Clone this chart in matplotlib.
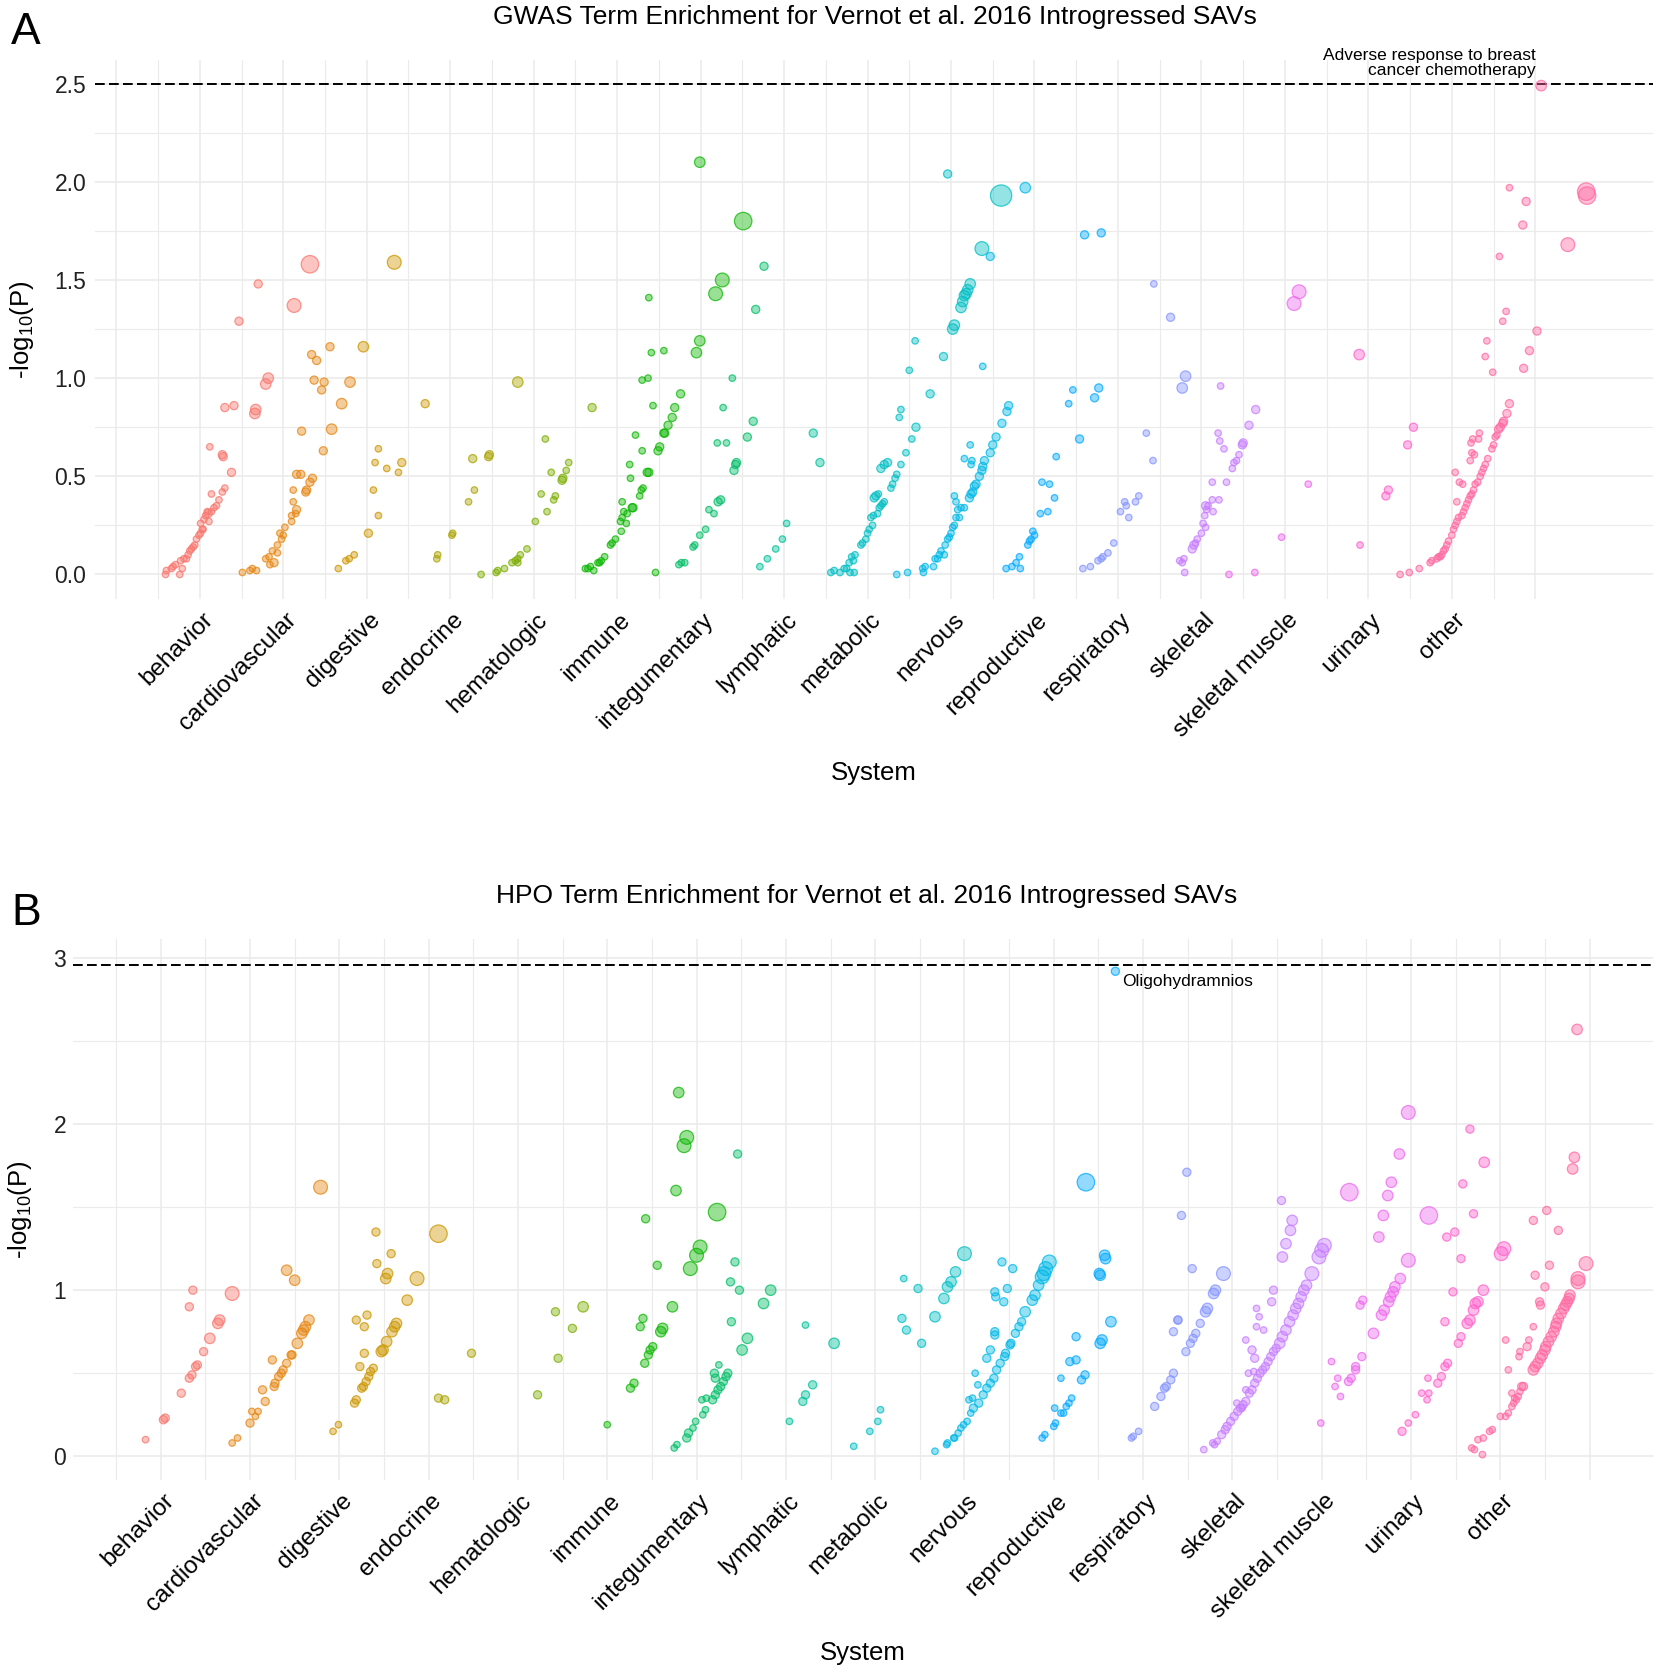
import numpy as np
import matplotlib
matplotlib.use("Agg")
import matplotlib.pyplot as plt
import matplotlib.transforms as mtransforms

plt.rcParams["font.family"] = ["Liberation Sans", "DejaVu Sans"]

systems = ["behavior", "cardiovascular", "digestive", "endocrine", "hematologic",
           "immune", "integumentary", "lymphatic", "metabolic", "nervous",
           "reproductive", "respiratory", "skeletal", "skeletal muscle",
           "urinary", "other"]

# each term: (x position, -log10(P), genes in term)
# ---- GWAS panel ----
gwas_behavior = [(0.59, 0.00, 1), (0.60, 0.02, 1), (0.66, 0.03, 1), (0.68, 0.04, 1), (0.71, 0.05, 1),
                 (0.76, 0.00, 1), (0.79, 0.03, 1), (0.77, 0.07, 1), (0.81, 0.08, 1), (0.84, 0.08, 1),
                 (0.86, 0.10, 1), (0.88, 0.12, 1), (0.90, 0.13, 1), (0.92, 0.14, 1), (0.94, 0.15, 1),
                 (0.96, 0.18, 1), (0.99, 0.20, 1), (1.01, 0.21, 1), (1.03, 0.23, 1), (1.04, 0.23, 1),
                 (1.01, 0.26, 1), (1.05, 0.28, 1), (1.07, 0.30, 1), (1.10, 0.31, 2), (1.09, 0.32, 1),
                 (1.11, 0.27, 1), (1.14, 0.32, 1), (1.17, 0.34, 1), (1.20, 0.35, 1), (1.23, 0.38, 1),
                 (1.14, 0.41, 1), (1.27, 0.42, 1), (1.30, 0.44, 1), (1.38, 0.52, 2), (1.27, 0.61, 2),
                 (1.28, 0.60, 2), (1.12, 0.65, 1), (1.30, 0.85, 2), (1.41, 0.86, 2), (1.47, 1.29, 2),
                 (1.70, 1.48, 2), (1.66, 0.82, 4), (1.67, 0.84, 4), (1.79, 0.97, 4), (1.82, 1.00, 4),
                 (2.13, 1.37, 8), (2.32, 1.58, 14)]
gwas_cardiovascular = [(1.51, 0.01, 1), (1.60, 0.02, 1), (1.63, 0.03, 1), (1.68, 0.02, 1), (1.79, 0.08, 1),
                       (1.83, 0.09, 1), (1.84, 0.05, 1), (1.87, 0.12, 1), (1.89, 0.06, 2), (1.93, 0.11, 1),
                       (1.93, 0.15, 1), (1.96, 0.21, 1), (1.98, 0.18, 1), (2.00, 0.20, 1), (2.02, 0.24, 1),
                       (2.10, 0.27, 1), (2.10, 0.30, 1), (2.12, 0.37, 1), (2.15, 0.31, 1), (2.16, 0.33, 2),
                       (2.12, 0.43, 1), (2.27, 0.42, 2), (2.28, 0.43, 2), (2.32, 0.47, 2), (2.35, 0.49, 2),
                       (2.16, 0.51, 2), (2.21, 0.51, 2), (2.22, 0.73, 2), (2.34, 1.12, 2), (2.40, 1.09, 2),
                       (2.37, 0.99, 2), (2.49, 0.98, 2), (2.46, 0.94, 2), (2.56, 1.16, 2), (2.48, 0.63, 2),
                       (2.58, 0.74, 4), (2.70, 0.87, 4), (2.80, 0.98, 4)]
gwas_digestive = [(2.66, 0.03, 1), (2.75, 0.07, 1), (2.79, 0.08, 1), (2.85, 0.10, 1), (3.02, 0.21, 2),
                  (3.08, 0.43, 1), (3.14, 0.30, 1), (3.10, 0.57, 1), (3.14, 0.64, 1), (3.24, 0.54, 1),
                  (3.38, 0.52, 1), (3.42, 0.57, 2), (2.96, 1.16, 4), (3.33, 1.59, 8), (3.70, 0.87, 2)]
gwas_endocrine = [(3.84, 0.08, 1), (3.85, 0.10, 1), (4.02, 0.20, 1), (4.03, 0.21, 1), (4.22, 0.37, 1),
                  (4.29, 0.43, 1), (4.27, 0.59, 2), (4.46, 0.60, 2), (4.47, 0.61, 2), (4.81, 0.98, 4)]
gwas_hematologic = [(4.37, 0.00, 1), (4.55, 0.01, 1), (4.57, 0.02, 1), (4.65, 0.03, 1), (4.74, 0.06, 1),
                    (4.78, 0.07, 1), (4.81, 0.08, 1), (4.84, 0.10, 1), (4.81, 0.06, 1), (4.92, 0.13, 1),
                    (5.02, 0.27, 1), (5.09, 0.41, 1), (5.16, 0.32, 1), (5.21, 0.52, 1), (5.14, 0.69, 1),
                    (5.24, 0.38, 1), (5.26, 0.40, 1), (5.34, 0.48, 2), (5.35, 0.49, 2), (5.39, 0.53, 1),
                    (5.42, 0.57, 1), (5.70, 0.85, 2)]
gwas_immune = [(5.62, 0.03, 1), (5.65, 0.03, 1), (5.68, 0.04, 1), (5.72, 0.02, 1), (5.77, 0.06, 1),
               (5.81, 0.07, 1), (5.79, 0.06, 1), (5.85, 0.09, 1), (5.92, 0.15, 1), (5.94, 0.16, 1),
               (5.98, 0.18, 1), (6.05, 0.22, 1), (6.04, 0.27, 1), (6.06, 0.29, 1), (6.08, 0.32, 1),
               (6.11, 0.26, 1), (6.12, 0.31, 1), (6.06, 0.37, 1), (6.18, 0.34, 2), (6.19, 0.34, 2),
               (6.16, 0.49, 1), (6.15, 0.56, 1), (6.22, 0.71, 1), (6.27, 0.40, 1), (6.29, 0.43, 1),
               (6.31, 0.44, 1), (6.30, 0.63, 1), (6.36, 0.52, 2), (6.38, 0.52, 2), (6.30, 0.99, 1),
               (6.37, 1.00, 1), (6.43, 0.86, 1), (6.41, 1.13, 1), (6.56, 1.14, 1), (6.38, 1.41, 1),
               (6.49, 0.63, 2), (6.51, 0.65, 2), (6.56, 0.72, 2), (6.57, 0.72, 2), (6.61, 0.76, 2),
               (6.66, 0.80, 2), (6.69, 0.85, 2), (6.76, 0.92, 2), (6.46, 0.01, 1), (6.95, 1.13, 4),
               (6.99, 1.19, 4), (6.99, 2.10, 4), (7.18, 1.43, 8), (7.26, 1.50, 8), (7.51, 1.80, 14)]
gwas_integumentary = [(6.74, 0.05, 1), (6.77, 0.06, 1), (6.81, 0.06, 1), (6.91, 0.14, 1), (6.93, 0.15, 1),
                      (6.99, 0.20, 1), (7.06, 0.23, 1), (7.10, 0.33, 1), (7.16, 0.31, 1), (7.21, 0.37, 2),
                      (7.24, 0.38, 2), (7.20, 0.67, 1), (7.31, 0.67, 1), (7.27, 0.85, 1), (7.38, 1.00, 1),
                      (7.40, 0.53, 2), (7.42, 0.56, 2), (7.43, 0.57, 2), (7.56, 0.70, 2), (7.63, 0.78, 2),
                      (7.66, 1.35, 2), (7.76, 1.57, 2)]
gwas_lymphatic = [(7.71, 0.04, 1), (7.80, 0.08, 1), (7.90, 0.13, 1), (7.98, 0.18, 1), (8.03, 0.26, 1),
                  (8.35, 0.72, 2), (8.43, 0.57, 2)]
gwas_metabolic = [(8.56, 0.01, 1), (8.60, 0.02, 1), (8.67, 0.01, 1), (8.72, 0.03, 1), (8.75, 0.03, 1),
                  (8.78, 0.06, 1), (8.81, 0.09, 1), (8.83, 0.07, 1), (8.85, 0.10, 1), (8.79, 0.01, 1),
                  (8.84, 0.01, 1), (8.92, 0.15, 1), (8.94, 0.16, 1), (8.98, 0.18, 1), (9.00, 0.21, 1),
                  (9.02, 0.23, 1), (9.06, 0.25, 1), (9.04, 0.29, 1), (9.07, 0.30, 1), (9.12, 0.31, 1),
                  (9.14, 0.34, 1), (9.16, 0.35, 1), (9.18, 0.36, 1), (9.20, 0.37, 1), (9.08, 0.39, 2),
                  (9.10, 0.40, 2), (9.13, 0.41, 1), (9.28, 0.44, 1), (9.30, 0.46, 1), (9.33, 0.49, 1),
                  (9.35, 0.51, 1), (9.16, 0.54, 2), (9.20, 0.56, 2), (9.24, 0.57, 2), (9.40, 0.56, 1),
                  (9.46, 0.62, 1), (9.53, 0.69, 1), (9.58, 0.75, 2), (9.38, 0.80, 1), (9.40, 0.84, 1),
                  (9.50, 1.04, 1), (9.57, 1.19, 1), (9.75, 0.92, 2), (9.91, 1.11, 2), (10.02, 1.25, 4),
                  (10.04, 1.27, 4), (10.12, 1.36, 4), (10.14, 1.39, 4), (10.16, 1.42, 4), (10.18, 1.43, 4),
                  (10.20, 1.45, 4), (10.23, 1.48, 4), (10.37, 1.66, 8), (10.60, 1.93, 22), (9.96, 2.04, 2)]
gwas_nervous = [(9.35, 0.00, 1), (9.48, 0.01, 1), (9.66, 0.03, 1), (9.67, 0.01, 1), (9.69, 0.04, 1),
                (9.79, 0.04, 1), (9.81, 0.08, 1), (9.84, 0.08, 1), (9.86, 0.10, 1), (9.88, 0.12, 1),
                (9.92, 0.10, 1), (9.93, 0.15, 1), (9.96, 0.18, 1), (9.98, 0.19, 1), (10.00, 0.21, 1),
                (10.02, 0.24, 1), (10.04, 0.25, 1), (10.06, 0.29, 1), (10.08, 0.33, 1), (10.12, 0.34, 1),
                (10.16, 0.34, 1), (10.04, 0.40, 1), (10.06, 0.37, 1), (10.10, 0.29, 1), (10.22, 0.39, 2),
                (10.24, 0.41, 2), (10.26, 0.42, 2), (10.28, 0.45, 2), (10.30, 0.46, 2), (10.34, 0.50, 2),
                (10.37, 0.53, 2), (10.38, 0.55, 2), (10.40, 0.58, 2), (10.16, 0.59, 1), (10.25, 0.58, 1),
                (10.24, 0.56, 1), (10.23, 0.66, 1), (10.47, 0.62, 2), (10.50, 0.66, 2), (10.54, 0.70, 2),
                (10.61, 0.77, 2), (10.67, 0.83, 2), (10.69, 0.86, 2), (10.47, 1.62, 2), (10.38, 1.06, 1),
                (10.89, 1.97, 4)]
gwas_reproductive = [(10.66, 0.03, 1), (10.73, 0.04, 1), (10.78, 0.06, 1), (10.83, 0.03, 1), (10.82, 0.09, 1),
                     (10.92, 0.15, 1), (10.94, 0.17, 1), (10.96, 0.18, 1), (10.98, 0.22, 1), (11.00, 0.20, 1),
                     (11.07, 0.31, 1), (11.16, 0.32, 1), (11.24, 0.39, 1), (11.09, 0.47, 1), (11.18, 0.46, 1),
                     (11.26, 0.60, 1), (11.54, 0.69, 2), (11.41, 0.87, 1), (11.46, 0.94, 1), (11.72, 0.90, 2),
                     (11.77, 0.95, 2), (11.60, 1.73, 2), (11.80, 1.74, 2)]
gwas_respiratory = [(11.58, 0.03, 1), (11.67, 0.04, 1), (11.76, 0.07, 1), (11.80, 0.08, 1), (11.82, 0.09, 1),
                    (11.88, 0.11, 1), (11.95, 0.16, 1), (12.03, 0.32, 1), (12.13, 0.29, 1), (12.08, 0.37, 1),
                    (12.10, 0.35, 1), (12.21, 0.37, 1), (12.25, 0.40, 1), (12.34, 0.72, 1), (12.42, 0.58, 1),
                    (12.43, 1.48, 1), (12.63, 1.31, 2), (12.77, 0.95, 4), (12.81, 1.01, 4)]
gwas_skeletal = [(12.74, 0.07, 1), (12.79, 0.08, 1), (12.77, 0.06, 1), (12.80, 0.01, 1), (12.89, 0.13, 2),
                 (12.91, 0.15, 2), (12.93, 0.16, 1), (12.95, 0.18, 1), (13.00, 0.21, 1), (13.02, 0.26, 1),
                 (13.05, 0.24, 1), (13.04, 0.30, 1), (13.06, 0.33, 1), (13.08, 0.35, 1), (13.14, 0.32, 1),
                 (13.13, 0.38, 1), (13.21, 0.38, 1), (13.05, 0.35, 2), (13.13, 0.47, 1), (13.30, 0.47, 1),
                 (13.37, 0.54, 1), (13.39, 0.57, 1), (13.42, 0.58, 1), (13.45, 0.61, 1), (13.49, 0.66, 2),
                 (13.50, 0.67, 2), (13.20, 0.72, 1), (13.22, 0.68, 1), (13.27, 0.64, 1), (13.57, 0.76, 2),
                 (13.65, 0.84, 2), (13.23, 0.96, 1)]
gwas_skeletal_muscle = [(13.33, 0.00, 1), (13.64, 0.01, 1), (13.96, 0.19, 1), (14.11, 1.38, 8),
                        (14.17, 1.44, 8), (14.28, 0.46, 1)]
gwas_urinary = [(14.90, 0.15, 1), (14.89, 1.12, 4), (15.21, 0.40, 2), (15.24, 0.43, 2), (15.47, 0.66, 2),
                (15.54, 0.75, 2)]
gwas_other = [(15.38, 0.00, 1), (15.49, 0.01, 1), (15.61, 0.03, 1), (15.74, 0.06, 1), (15.76, 0.07, 1),
              (15.82, 0.08, 1), (15.84, 0.09, 1), (15.86, 0.09, 1), (15.88, 0.10, 1), (15.90, 0.12, 1),
              (15.92, 0.13, 1), (15.94, 0.15, 1), (15.96, 0.17, 1), (16.00, 0.20, 1), (16.02, 0.23, 1),
              (16.04, 0.25, 1), (16.06, 0.27, 1), (16.08, 0.29, 1), (16.12, 0.30, 1), (16.14, 0.32, 1),
              (16.16, 0.34, 1), (16.18, 0.36, 1), (16.20, 0.38, 1), (16.22, 0.40, 1), (16.24, 0.41, 1),
              (16.26, 0.43, 1), (16.28, 0.46, 1), (16.31, 0.47, 1), (16.34, 0.50, 1), (16.36, 0.52, 1),
              (16.38, 0.54, 1), (16.40, 0.56, 1), (16.43, 0.59, 1), (16.48, 0.64, 1), (16.50, 0.66, 1),
              (16.52, 0.70, 1), (16.54, 0.71, 1), (16.56, 0.74, 2), (16.58, 0.75, 2), (16.61, 0.77, 2),
              (16.62, 0.78, 2), (16.66, 0.82, 2), (16.69, 0.87, 2), (16.04, 0.52, 1), (16.09, 0.47, 1),
              (16.13, 0.46, 1), (16.06, 0.37, 1), (16.22, 0.58, 1), (16.24, 0.62, 1), (16.27, 0.61, 1),
              (16.23, 0.67, 1), (16.25, 0.69, 1), (16.32, 0.69, 1), (16.33, 0.72, 1), (16.49, 1.03, 1),
              (16.40, 1.11, 1), (16.42, 1.19, 1), (16.61, 1.29, 1), (16.65, 1.34, 1), (16.86, 1.05, 2),
              (16.93, 1.14, 2), (17.02, 1.24, 2), (16.57, 1.62, 1), (16.69, 1.97, 1), (16.85, 1.78, 2),
              (16.89, 1.90, 2), (17.39, 1.68, 8), (17.61, 1.95, 14), (17.62, 1.93, 14), (17.07, 2.49, 4)]

# ---- HPO panel ----
hpo_behavior = [(0.83, 0.10, 1), (1.03, 0.22, 2), (1.05, 0.23, 2), (1.23, 0.38, 2), (1.32, 0.47, 2),
                (1.35, 0.49, 2), (1.39, 0.54, 2), (1.41, 0.55, 2), (1.48, 0.63, 2), (1.55, 0.71, 4),
                (1.64, 0.80, 4), (1.66, 0.82, 4), (1.32, 0.90, 2), (1.36, 1.00, 2), (1.80, 0.98, 8)]
hpo_cardiovascular = [(1.80, 0.08, 1), (1.86, 0.11, 1), (2.00, 0.20, 2), (2.02, 0.27, 1), (2.06, 0.24, 1),
                      (2.09, 0.27, 1), (2.14, 0.40, 2), (2.17, 0.33, 2), (2.27, 0.42, 2), (2.28, 0.44, 2),
                      (2.32, 0.48, 2), (2.35, 0.50, 2), (2.37, 0.52, 2), (2.41, 0.56, 2), (2.46, 0.61, 2),
                      (2.47, 0.61, 2), (2.25, 0.58, 2), (2.53, 0.68, 4), (2.58, 0.74, 4), (2.60, 0.76, 4),
                      (2.62, 0.78, 4), (2.66, 0.82, 4), (2.41, 1.12, 4), (2.50, 1.06, 4), (2.79, 1.62, 8)]
hpo_digestive = [(2.93, 0.15, 1), (2.99, 0.19, 1), (3.17, 0.32, 2), (3.19, 0.34, 2), (3.23, 0.54, 2),
                 (3.28, 0.62, 2), (3.25, 0.41, 2), (3.27, 0.42, 2), (3.30, 0.45, 2), (3.33, 0.48, 2),
                 (3.35, 0.51, 2), (3.38, 0.53, 2), (3.19, 0.82, 2), (3.28, 0.78, 2), (3.31, 0.85, 2),
                 (3.47, 0.63, 4), (3.49, 0.64, 4), (3.53, 0.69, 4), (3.59, 0.75, 4), (3.62, 0.78, 4),
                 (3.64, 0.80, 4), (3.76, 0.94, 4), (3.41, 1.35, 2), (3.42, 1.16, 2), (3.58, 1.22, 2),
                 (3.52, 1.07, 4), (3.54, 1.10, 4), (3.87, 1.07, 8), (4.11, 1.34, 14)]
hpo_endocrine = [(4.11, 0.35, 2), (4.18, 0.34, 2), (4.48, 0.62, 2)]
hpo_hematologic = [(5.22, 0.37, 2), (5.42, 0.87, 2), (5.45, 0.59, 2), (5.61, 0.77, 2), (5.73, 0.90, 4)]
hpo_immune = [(6.00, 0.19, 1), (6.26, 0.41, 2), (6.30, 0.44, 2), (6.42, 0.56, 2), (6.46, 0.61, 2),
              (6.48, 0.64, 2), (6.51, 0.66, 2), (6.37, 0.78, 2), (6.40, 0.83, 2), (6.60, 0.75, 4),
              (6.62, 0.77, 4), (6.56, 1.15, 2), (6.43, 1.43, 2), (6.73, 0.90, 4), (6.77, 1.60, 4),
              (6.93, 1.13, 8), (7.00, 1.21, 8), (7.04, 1.26, 8), (6.86, 1.87, 8), (6.89, 1.92, 8),
              (6.80, 2.19, 4), (7.23, 1.47, 14)]
hpo_integumentary = [(6.75, 0.05, 1), (6.78, 0.07, 1), (6.89, 0.11, 2), (6.91, 0.14, 2), (6.96, 0.17, 1),
                     (6.99, 0.21, 1), (7.07, 0.25, 1), (7.10, 0.28, 1), (7.06, 0.34, 1), (7.11, 0.35, 1),
                     (7.18, 0.34, 2), (7.21, 0.37, 2), (7.24, 0.40, 2), (7.27, 0.42, 2), (7.30, 0.45, 2),
                     (7.33, 0.48, 2), (7.35, 0.50, 2), (7.20, 0.50, 2), (7.21, 0.47, 2), (7.25, 0.55, 1),
                     (7.39, 0.81, 2), (7.38, 1.05, 2), (7.48, 1.00, 2), (7.43, 1.17, 2), (7.46, 1.82, 2),
                     (7.51, 0.64, 4), (7.57, 0.71, 4), (7.75, 0.92, 4), (7.83, 1.00, 4)]
hpo_lymphatic = [(8.04, 0.21, 1), (8.19, 0.33, 2), (8.22, 0.37, 2), (8.30, 0.43, 2), (8.22, 0.79, 1),
                 (8.54, 0.68, 4)]
hpo_metabolic = [(8.76, 0.06, 1), (8.94, 0.15, 1), (9.03, 0.21, 1), (9.06, 0.28, 1), (9.32, 1.07, 1),
                 (9.48, 1.01, 2), (9.30, 0.83, 2), (9.35, 0.76, 2), (9.52, 0.68, 2), (9.67, 0.84, 4),
                 (9.77, 0.95, 4), (9.81, 1.02, 4), (9.85, 1.05, 4), (9.90, 1.11, 4), (10.00, 1.22, 8)]
hpo_nervous = [(9.67, 0.03, 1), (9.80, 0.07, 1), (9.81, 0.08, 1), (9.88, 0.11, 1), (9.89, 0.11, 1),
               (9.93, 0.14, 1), (9.96, 0.17, 1), (9.99, 0.19, 1), (10.03, 0.21, 1), (10.07, 0.26, 1),
               (10.10, 0.29, 2), (10.16, 0.32, 2), (10.21, 0.37, 2), (10.25, 0.41, 2), (10.29, 0.44, 2),
               (10.33, 0.47, 2), (10.36, 0.52, 2), (10.40, 0.56, 2), (10.45, 0.60, 2), (10.46, 0.62, 2),
               (10.51, 0.67, 2), (10.52, 0.68, 2), (10.57, 0.74, 2), (10.61, 0.78, 2), (10.64, 0.81, 2),
               (10.68, 0.87, 4), (10.76, 0.94, 4), (10.79, 0.97, 4), (10.83, 1.03, 4), (10.87, 1.08, 8),
               (10.89, 1.10, 8), (10.91, 1.13, 8), (10.95, 1.17, 8), (10.42, 1.17, 2), (10.54, 1.13, 2),
               (10.34, 0.99, 2), (10.35, 0.96, 2), (10.48, 1.01, 2), (10.44, 0.93, 2), (10.34, 0.75, 2),
               (10.34, 0.73, 2), (10.29, 0.64, 2), (10.25, 0.59, 2), (10.12, 0.50, 1), (10.15, 0.43, 1),
               (10.05, 0.34, 1), (10.09, 0.35, 1)]
hpo_reproductive = [(10.87, 0.11, 1), (10.90, 0.13, 1), (11.00, 0.18, 1), (11.02, 0.20, 1), (11.01, 0.29, 1),
                    (11.08, 0.26, 1), (11.11, 0.26, 1), (11.14, 0.30, 1), (11.17, 0.32, 1), (11.20, 0.35, 1),
                    (11.08, 0.47, 1), (11.31, 0.46, 2), (11.35, 0.49, 2), (11.18, 0.57, 2), (11.25, 0.58, 2),
                    (11.25, 0.72, 2), (11.52, 0.68, 4), (11.54, 0.70, 4), (11.64, 0.81, 4), (11.51, 1.10, 4),
                    (11.52, 1.09, 4), (11.57, 1.21, 4), (11.58, 1.19, 4), (11.36, 1.65, 14), (11.69, 2.92, 2)]
hpo_respiratory = [(11.87, 0.11, 1), (11.89, 0.12, 1), (11.95, 0.15, 1), (12.13, 0.30, 2), (12.20, 0.36, 2),
                   (12.24, 0.41, 2), (12.26, 0.42, 2), (12.31, 0.46, 2), (12.34, 0.50, 2), (12.34, 0.75, 2),
                   (12.39, 0.82, 2), (12.39, 0.82, 2), (12.48, 0.63, 2), (12.53, 0.68, 2), (12.56, 0.71, 2),
                   (12.59, 0.74, 2), (12.64, 0.80, 2), (12.70, 0.87, 4), (12.72, 0.89, 4), (12.79, 0.98, 4),
                   (12.81, 1.00, 4), (12.90, 1.10, 8), (12.55, 1.13, 2), (12.43, 1.45, 2), (12.49, 1.71, 2)]
hpo_skeletal = [(12.68, 0.04, 1), (12.78, 0.08, 1), (12.80, 0.07, 1), (12.83, 0.09, 1), (12.88, 0.13, 2),
                (12.92, 0.16, 2), (12.94, 0.18, 2), (12.98, 0.21, 2), (13.02, 0.24, 2), (13.06, 0.27, 2),
                (13.09, 0.29, 2), (13.12, 0.31, 2), (13.15, 0.33, 2), (13.19, 0.38, 2), (13.22, 0.40, 2),
                (13.25, 0.44, 2), (13.28, 0.47, 2), (13.31, 0.50, 2), (13.34, 0.52, 2), (13.37, 0.54, 2),
                (13.40, 0.57, 2), (13.43, 0.60, 2), (13.46, 0.63, 2), (13.49, 0.65, 2), (13.53, 0.68, 4),
                (13.56, 0.72, 4), (13.60, 0.76, 4), (13.64, 0.81, 4), (13.68, 0.85, 4), (13.71, 0.89, 4),
                (13.74, 0.92, 4), (13.77, 0.96, 4), (13.80, 1.00, 4), (13.83, 1.03, 4), (13.89, 1.10, 8),
                (13.97, 1.20, 8), (14.00, 1.24, 8), (14.03, 1.27, 8), (13.05, 0.32, 1), (13.11, 0.29, 1),
                (13.15, 0.40, 1), (13.18, 0.50, 1), (13.24, 0.51, 1), (13.25, 0.59, 2), (13.22, 0.64, 2),
                (13.15, 0.70, 1), (13.27, 0.89, 1), (13.30, 0.84, 1), (13.27, 0.78, 1), (13.35, 0.76, 1),
                (13.44, 0.93, 2), (13.46, 1.00, 2), (13.55, 1.54, 2), (13.67, 1.42, 4), (13.65, 1.36, 4),
                (13.60, 1.28, 4), (13.56, 1.20, 4)]
hpo_skeletal_muscle = [(13.99, 0.20, 1), (14.11, 0.57, 1), (14.18, 0.47, 1), (14.15, 0.42, 1), (14.21, 0.36, 1),
                       (14.30, 0.45, 2), (14.33, 0.47, 2), (14.38, 0.52, 2), (14.38, 0.54, 2), (14.45, 0.60, 2),
                       (14.58, 0.74, 4), (14.67, 0.85, 4), (14.70, 0.88, 4), (14.75, 0.93, 4), (14.77, 0.96, 4),
                       (14.80, 0.99, 4), (14.82, 1.02, 4), (14.88, 1.07, 4), (14.97, 1.18, 8), (14.43, 0.91, 2),
                       (14.46, 0.94, 2), (14.64, 1.32, 4), (14.69, 1.45, 4), (14.74, 1.57, 4), (14.78, 1.65, 4),
                       (14.87, 1.82, 4), (14.97, 2.07, 8), (14.31, 1.59, 14), (15.20, 1.45, 14)]
hpo_urinary = [(14.90, 0.15, 2), (14.97, 0.20, 1), (15.05, 0.25, 1), (15.12, 0.38, 1), (15.18, 0.34, 1),
               (15.20, 0.38, 1), (15.19, 0.47, 1), (15.30, 0.44, 2), (15.34, 0.48, 2), (15.38, 0.54, 2),
               (15.41, 0.56, 2), (15.38, 0.81, 2), (15.47, 0.99, 2), (15.53, 0.68, 2), (15.56, 0.72, 2),
               (15.63, 0.80, 4), (15.66, 0.82, 4), (15.70, 0.88, 4), (15.72, 0.92, 4), (15.75, 0.93, 4),
               (15.81, 1.00, 4), (15.56, 1.19, 2), (15.40, 1.32, 2), (15.49, 1.35, 2), (15.70, 1.46, 2),
               (15.58, 1.64, 2), (15.82, 1.77, 4), (15.66, 1.97, 2), (16.01, 1.22, 8), (16.04, 1.25, 8)]
hpo_other = [(15.68, 0.05, 1), (15.71, 0.04, 1), (15.80, 0.01, 1), (15.75, 0.10, 1), (15.81, 0.11, 1),
             (15.88, 0.15, 1), (15.91, 0.16, 1), (16.00, 0.24, 1), (16.06, 0.24, 1), (16.09, 0.26, 1),
             (16.13, 0.30, 1), (16.15, 0.32, 1), (16.18, 0.34, 1), (16.20, 0.36, 1), (16.22, 0.39, 1),
             (16.24, 0.42, 2), (16.26, 0.42, 2), (16.06, 0.70, 1), (16.09, 0.52, 1), (16.13, 0.38, 1),
             (16.16, 0.35, 1), (16.21, 0.60, 1), (16.22, 0.63, 1), (16.30, 0.66, 2), (16.32, 0.70, 1),
             (16.37, 0.78, 1), (16.39, 1.09, 2), (16.50, 1.02, 2), (16.44, 0.93, 2), (16.45, 0.91, 2),
             (16.55, 1.15, 2), (16.37, 1.42, 2), (16.52, 1.48, 2), (16.65, 1.36, 2), (16.37, 0.52, 4),
             (16.39, 0.54, 4), (16.42, 0.56, 4), (16.45, 0.59, 4), (16.47, 0.61, 4), (16.50, 0.64, 4),
             (16.51, 0.66, 4), (16.54, 0.69, 4), (16.57, 0.72, 4), (16.60, 0.75, 4), (16.62, 0.78, 4),
             (16.63, 0.80, 4), (16.65, 0.83, 4), (16.68, 0.86, 4), (16.71, 0.89, 4), (16.73, 0.91, 4),
             (16.75, 0.93, 4), (16.77, 0.95, 4), (16.78, 0.97, 4), (16.87, 1.05, 8), (16.87, 1.07, 8),
             (16.96, 1.16, 8), (16.83, 1.80, 4), (16.81, 1.73, 4), (16.86, 2.57, 4)]

gwas_terms = [gwas_behavior, gwas_cardiovascular, gwas_digestive, gwas_endocrine, gwas_hematologic,
              gwas_immune, gwas_integumentary, gwas_lymphatic, gwas_metabolic, gwas_nervous,
              gwas_reproductive, gwas_respiratory, gwas_skeletal, gwas_skeletal_muscle, gwas_urinary,
              gwas_other]
hpo_terms = [hpo_behavior, hpo_cardiovascular, hpo_digestive, hpo_endocrine, hpo_hematologic,
             hpo_immune, hpo_integumentary, hpo_lymphatic, hpo_metabolic, hpo_nervous,
             hpo_reproductive, hpo_respiratory, hpo_skeletal, hpo_skeletal_muscle, hpo_urinary,
             hpo_other]

gwas_threshold = 2.5
hpo_threshold = 2.96


def hcl_rgb(h, c=100.0, l=65.0):
    # polar Luv -> sRGB, same as ggplot's default hue palette
    hr = np.deg2rad(h)
    u, v = c * np.cos(hr), c * np.sin(hr)
    xn, yn, zn = 95.047, 100.0, 108.883
    un = 4 * xn / (xn + 15 * yn + 3 * zn)
    vn = 9 * yn / (xn + 15 * yn + 3 * zn)
    y = yn * ((l + 16) / 116) ** 3
    up, vp = u / (13 * l) + un, v / (13 * l) + vn
    x = y * 9 * up / (4 * vp)
    z = y * (12 - 3 * up - 20 * vp) / (4 * vp)
    x, y, z = x / 100, y / 100, z / 100
    lin = [3.2404542 * x - 1.5371385 * y - 0.4985314 * z,
           -0.9692660 * x + 1.8760108 * y + 0.0415560 * z,
           0.0556434 * x - 0.2040259 * y + 1.0572252 * z]
    out = []
    for ch in lin:
        ch = 12.92 * ch if ch <= 0.0031308 else 1.055 * ch ** (1 / 2.4) - 0.055
        out.append(min(max(ch, 0.0), 1.0))
    return tuple(out)


n_sys = len(systems)
colors = [hcl_rgb(15 + 360 * i / n_sys) for i in range(n_sys)]

DPI = 100
W, H = 1667, 1671
fig = plt.figure(figsize=(W / DPI, H / DPI), dpi=DPI, facecolor="white")

GRID = "#EBEBEB"


def marker_area(genes):
    d_px = 2.5 + 4.0 * np.sqrt(np.asarray(genes, dtype=float))
    return (d_px * 72 / DPI) ** 2


def draw_panel(rect, terms, xlim, ylim, yticks, ylabels, ygrid_minor, xgrid, thr, ypad):
    ax = fig.add_axes(rect)
    ax.set_xlim(*xlim)
    ax.set_ylim(*ylim)
    for sp in ax.spines.values():
        sp.set_visible(False)

    for gx in xgrid:
        lw = 1.1 if float(gx).is_integer() else 0.8
        ax.axvline(gx, color=GRID, lw=lw, zorder=0)
    for gy in yticks:
        ax.axhline(gy, color=GRID, lw=1.2, zorder=0)
    for gy in ygrid_minor:
        ax.axhline(gy, color=GRID, lw=0.8, zorder=0)

    ax.axhline(thr, color="black", lw=1.4, linestyle=(0, (5, 2.2)), zorder=1)

    for i, pts in enumerate(terms):
        xs = [p[0] for p in pts]
        ys = [p[1] for p in pts]
        ns = [p[2] for p in pts]
        c = colors[i]
        ax.scatter(xs, ys, s=marker_area(ns), facecolor=(*c, 0.42),
                   edgecolor=(*c, 0.75), linewidths=0.9, zorder=3)

    ax.set_xticks(range(1, n_sys + 1))
    ax.set_xticklabels(systems, rotation=45, ha="right", va="top",
                       rotation_mode="anchor", fontsize=17.5, color="black")
    ax.set_yticks(yticks)
    ax.set_yticklabels(ylabels, fontsize=16.5, color="#222222")
    ax.tick_params(axis="x", length=0, pad=7)
    ax.tick_params(axis="y", length=0, pad=ypad)
    shift = mtransforms.ScaledTranslation(1.5 / 72, 0, fig.dpi_scale_trans)
    for lab in ax.get_xticklabels():
        lab.set_transform(lab.get_transform() + shift)
    return ax


def frac_rect(left, right, top, bottom):
    return [left / W, 1 - bottom / H, (right - left) / W, (bottom - top) / H]


# panel A: GWAS
axA = draw_panel(frac_rect(94.6, 1653, 60.1, 599), gwas_terms,
                 (-0.26, 18.41), (-0.125, 2.62),
                 [0, 0.5, 1.0, 1.5, 2.0, 2.5], ["0.0", "0.5", "1.0", "1.5", "2.0", "2.5"],
                 [0.25, 0.75, 1.25, 1.75, 2.25], np.arange(0, 17.01, 0.5),
                 gwas_threshold, 6)
axA.text(17.0, 2.53, "Adverse response to breast\ncancer chemotherapy",
         ha="right", va="bottom", fontsize=12.5, linespacing=0.95, zorder=5)

# panel B: HPO
axB = draw_panel(frac_rect(73.2, 1653, 939.1, 1480), hpo_terms,
                 (0.02, 17.71), (-0.143, 3.114),
                 [0, 1, 2, 3], ["0", "1", "2", "3"],
                 [0.5, 1.5, 2.5], np.arange(0.5, 17.01, 0.5),
                 hpo_threshold, 5)
axB.text(11.76, 2.905, "Oligohydramnios", ha="left", va="top", fontsize=12.5, zorder=5)

# titles, axis titles, panel letters
fig.text(875 / W, 1 - 17.4 / H, "GWAS Term Enrichment for Vernot et al. 2016 Introgressed SAVs",
         ha="center", va="center", fontsize=19)
fig.text(867 / W, 1 - 896 / H, "HPO Term Enrichment for Vernot et al. 2016 Introgressed SAVs",
         ha="center", va="center", fontsize=19)
fig.text(874 / W, 1 - 773 / H, "System", ha="center", va="center", fontsize=18.5)
fig.text(863 / W, 1 - 1653 / H, "System", ha="center", va="center", fontsize=18.5)
ylab = "-log" + r"$_{\mathregular{10}}$" + "(P)"
fig.text(22 / W, 1 - 330 / H, ylab, rotation=90, ha="center", va="center", fontsize=18.5)
fig.text(20 / W, 1 - 1210 / H, ylab, rotation=90, ha="center", va="center", fontsize=18.5)
fig.text(11 / W, 1 - 43.5 / H, "A", ha="left", va="baseline", fontsize=32)
fig.text(11 / W, 1 - 925.2 / H, "B", ha="left", va="baseline", fontsize=32)

fig.savefig("out.png", dpi=DPI, facecolor="white")
